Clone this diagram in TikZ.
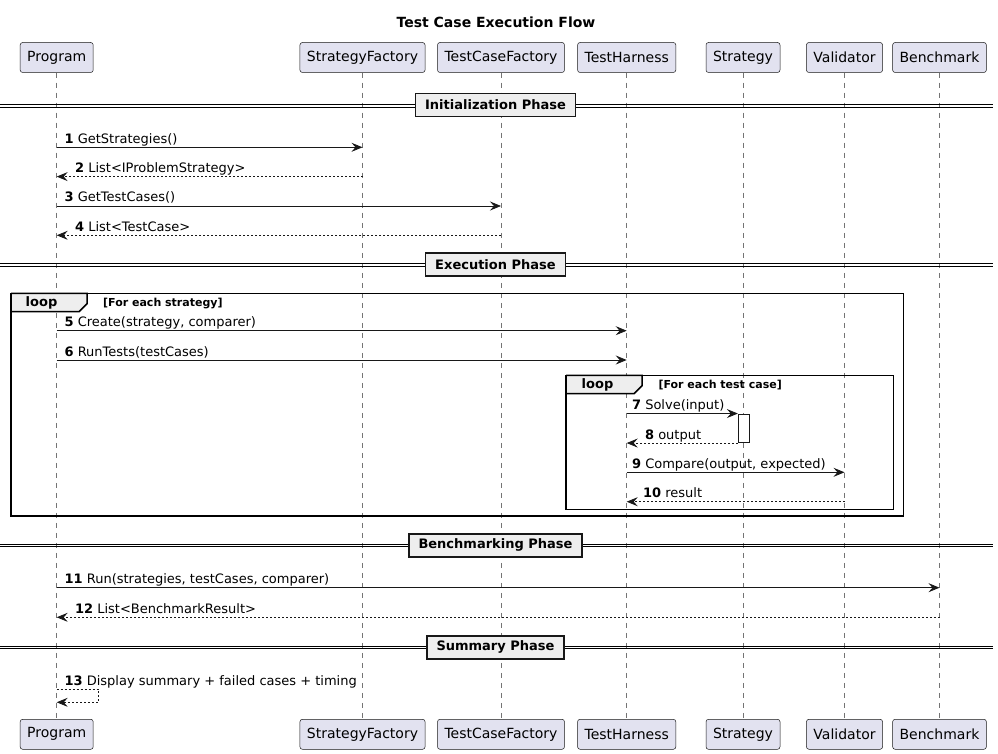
\documentclass[tikz,border=0pt]{standalone}
\usepackage{fontspec}
\setmainfont{DejaVu Sans}
\usetikzlibrary{arrows.meta}
\definecolor{partfill}{HTML}{E2E2F0}
\definecolor{ink}{HTML}{181818}
\definecolor{tabfill}{HTML}{EEEEEE}
\begin{document}
\begin{tikzpicture}[
  x=1pt, y=-1pt,
  part/.style={draw=ink, fill=partfill, line width=0.5pt, rounded corners=2.5pt, minimum height=30pt, inner xsep=7pt, font=\fontsize{14}{16}\selectfont},
  life/.style={draw=ink!60, line width=0.5pt, dash pattern=on 5pt off 5pt},
  msg/.style={-{Stealth[length=11pt, width=9pt, inset=4pt]}, draw=ink, line width=0.8pt},
  ret/.style={msg, dash pattern=on 2pt off 2pt},
  lab/.style={anchor=base west, inner sep=0pt, yshift=4pt, font=\fontsize{13}{15}\selectfont},
  phase/.style={draw=ink, fill=tabfill, line width=1.5pt, minimum height=23pt, inner xsep=9.5pt, font=\bfseries\fontsize{13}{15}\selectfont},
  divline/.style={draw=black, line width=1pt},
  frame/.style={draw=black, line width=1.5pt},
  tabtxt/.style={anchor=base west, inner sep=0pt, font=\bfseries\fontsize{13}{15}\selectfont},
  guard/.style={anchor=base west, inner sep=0pt, font=\bfseries\fontsize{11}{13}\selectfont}
]
\useasboundingbox (0,0) rectangle (998,754);

\node[font=\bfseries\fontsize{14}{16}\selectfont] (title) at (496,22) {Test Case Execution Flow};

\node[part] (prog)  at (56.7,57.5)  {Program};
\node[part] (sfac)  at (362.5,57.5) {StrategyFactory};
\node[part] (tfac)  at (501,57.5)   {TestCaseFactory};
\node[part] (harn)  at (626.7,57.5) {TestHarness};
\node[part] (strat) at (743,57.5)   {Strategy};
\node[part] (valid) at (844.5,57.5) {Validator};
\node[part] (bench) at (939.5,57.5) {Benchmark};

\node[part] (progb)  at (56.7,734.3)  {Program};
\node[part] (sfacb)  at (362.5,734.3) {StrategyFactory};
\node[part] (tfacb)  at (501,734.3)   {TestCaseFactory};
\node[part] (harnb)  at (626.7,734.3) {TestHarness};
\node[part] (stratb) at (743,734.3)   {Strategy};
\node[part] (validb) at (844.5,734.3) {Validator};
\node[part] (benchb) at (939.5,734.3) {Benchmark};

\draw[life] (prog) -- (progb);
\draw[life] (sfac) -- (sfacb);
\draw[life] (tfac) -- (tfacb);
\draw[life] (harn) -- (harnb);
\draw[life] (strat) -- (stratb);
\draw[life] (valid) -- (validb);
\draw[life] (bench) -- (benchb);

\draw[divline] (0,104.3) -- (993,104.3) (0,107.1) -- (993,107.1);
\node[phase] (init) at (495.5,105) {Initialization Phase};
\draw[divline] (0,263.2) -- (993,263.2) (0,266) -- (993,266);
\node[phase] (exec) at (495.5,264.7) {Execution Phase};
\draw[divline] (0,544) -- (993,544) (0,546.8) -- (993,546.8);
\node[phase] (benchp) at (495.5,545.3) {Benchmarking Phase};
\draw[divline] (0,646) -- (993,646) (0,648.8) -- (993,648.8);
\node[phase] (summ) at (495.5,647.3) {Summary Phase};

\draw[msg] (prog |- 0,147.3) -- node[lab, pos=0, xshift=7.5pt] {\textbf{1} GetStrategies()} (sfac |- 0,147.3);
\draw[ret] (sfac |- 0,176.6) -- node[lab, pos=1, xshift=18pt] {\textbf{2} List<IProblemStrategy>} (prog |- 0,176.6);
\draw[msg] (prog |- 0,206) -- node[lab, pos=0, xshift=7.5pt] {\textbf{3} GetTestCases()} (tfac |- 0,206);
\draw[ret] (tfac |- 0,235.3) -- node[lab, pos=1, xshift=18pt] {\textbf{4} List<TestCase>} (prog |- 0,235.3);

\filldraw[frame, fill=tabfill] (11,293.3) -- (87,293.3) -- (87,303.7) -- (79,311.7) -- (11,311.7);
\draw[frame] (11,293.3) rectangle (903.3,516);
\node[tabtxt] (loop1) at (25.5,306.7) {loop};
\node[guard] (guard1) at (103,306) {[For each strategy]};

\draw[msg] (prog |- 0,330.7) -- node[lab, pos=0, xshift=7.5pt] {\textbf{5} Create(strategy, comparer)} (harn |- 0,330.7);
\draw[msg] (prog |- 0,360) -- node[lab, pos=0, xshift=7.5pt] {\textbf{6} RunTests(testCases)} (harn |- 0,360);

\filldraw[frame, fill=tabfill] (566,375.3) -- (642,375.3) -- (642,385.7) -- (634,393.7) -- (566,393.7);
\draw[frame] (566,375.3) rectangle (893.3,509.3);
\node[tabtxt] (loop2) at (581.5,388.7) {loop};
\node[guard] (guard2) at (658.3,388) {[For each test case]};

\node[draw=ink, fill=white, line width=0.8pt, minimum width=10.7pt, minimum height=28.7pt, inner sep=0pt] (act) at (743.6,428.3) {};
\draw[msg] (harn |- act.north west) -- node[lab, pos=0, xshift=5pt] {\textbf{7} Solve(input)} (act.north west);
\draw[ret] (act.south west) -- node[lab, pos=1, xshift=18pt] {\textbf{8} output} (harn |- act.south west);
\draw[msg] (harn |- 0,472.3) -- node[lab, pos=0, xshift=5pt] {\textbf{9} Compare(output, expected)} (valid |- 0,472.3);
\draw[ret] (valid |- 0,501.7) -- node[lab, pos=1, xshift=16pt] {\textbf{10} result} (harn |- 0,501.7);

\draw[msg] (prog |- 0,587.7) -- node[lab, pos=0, xshift=7.5pt] {\textbf{11} Run(strategies, testCases, comparer)} (bench |- 0,587.7);
\draw[ret] (bench |- 0,617.3) -- node[lab, pos=1, xshift=18pt] {\textbf{12} List<BenchmarkResult>} (prog |- 0,617.3);

\draw[ret] (prog |- 0,689.3) node[lab, xshift=7.5pt] {\textbf{13} Display summary + failed cases + timing} -- ++(42,0) -- ++(0,13) -- (prog |- 0,702.3);
\end{tikzpicture}
\end{document}
